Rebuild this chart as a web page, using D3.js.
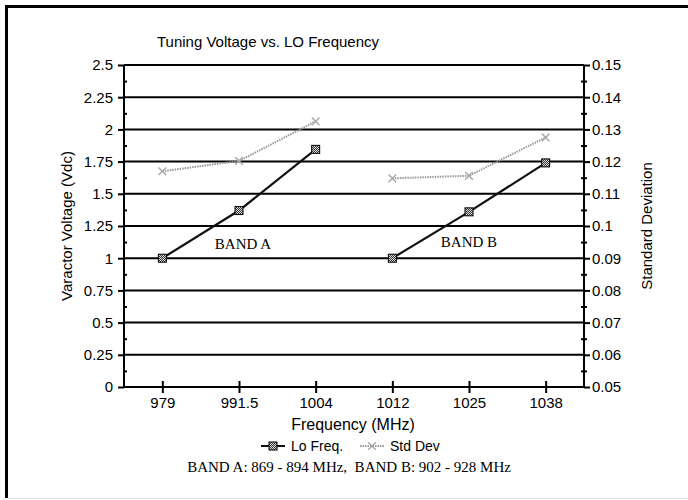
<!DOCTYPE html>
<html>
<head>
<meta charset="utf-8">
<script src="https://cdn.jsdelivr.net/npm/d3@7"></script>
<style>
  body { margin: 0; background: #fff; }
  text { font-family: "Liberation Sans", Arial, sans-serif; fill: #000; }
  .serif { font-family: "Liberation Serif", "Times New Roman", serif; }
</style>
</head>
<body>
<svg id="chart" width="688" height="500"></svg>
<script>
// chart data
const freqLabels = ['979', '991.5', '1004', '1012', '1025', '1038'];
const bandOf = ['A', 'A', 'A', 'B', 'B', 'B'];
const loFreq = [1.0, 1.37, 1.845, 1.0, 1.36, 1.74];
const stdDev = [0.117, 0.1202, 0.1325, 0.1148, 0.1156, 0.1275];
const leftTicks = [0, 0.25, 0.5, 0.75, 1, 1.25, 1.5, 1.75, 2, 2.25, 2.5];
const rightTicks = [0.05, 0.06, 0.07, 0.08, 0.09, 0.1, 0.11, 0.12, 0.13, 0.14, 0.15];
const bandLabels = ['BAND A', 'BAND B'];

const svg = d3.select('#chart');
const plot = { left: 124, right: 584, top: 65, bottom: 387 };

// page frame
svg.append('line').attr('x1', 6.5).attr('x2', 6.5).attr('y1', 5).attr('y2', 498)
  .attr('stroke', '#000').attr('stroke-width', 3);
svg.append('line').attr('x1', 5).attr('x2', 688).attr('y1', 6.5).attr('y2', 6.5)
  .attr('stroke', '#000').attr('stroke-width', 3);
svg.append('line').attr('x1', 8).attr('x2', 688).attr('y1', 498.5).attr('y2', 498.5)
  .attr('stroke', '#e6e6e6').attr('stroke-width', 1);

const x = d3.scalePoint().domain(freqLabels).range([plot.left, plot.right]).padding(0.5);
const yL = d3.scaleLinear().domain([0, 2.5]).range([plot.bottom, plot.top]);
const yR = d3.scaleLinear().domain([0.05, 0.15]).range([plot.bottom, plot.top]);

// hatch pattern for the Lo Freq markers
const defs = svg.append('defs');
const pat = defs.append('pattern').attr('id', 'hatch').attr('patternUnits', 'userSpaceOnUse')
  .attr('width', 2).attr('height', 2);
pat.append('rect').attr('width', 2).attr('height', 2).attr('fill', '#333');
pat.append('rect').attr('width', 1).attr('height', 1).attr('fill', '#ddd');
pat.append('rect').attr('x', 1).attr('y', 1).attr('width', 1).attr('height', 1).attr('fill', '#ddd');

// gridlines
svg.append('g').selectAll('line')
  .data(leftTicks.filter(d => d > 0))
  .enter().append('line')
  .attr('x1', plot.left).attr('x2', plot.right)
  .attr('y1', d => yL(d)).attr('y2', d => yL(d))
  .attr('stroke', '#000').attr('stroke-width', 2);

// left axis
const leftAxis = svg.append('g').attr('transform', `translate(${plot.left},0)`)
  .call(d3.axisLeft(yL).tickValues(leftTicks).tickSize(6).tickPadding(5).tickFormat(d3.format('')));
const leftMinor = svg.append('g').attr('transform', `translate(${plot.left},0)`)
  .call(d3.axisLeft(yL).tickValues(leftTicks.slice(1).map((d, i) => (d + leftTicks[i]) / 2)).tickSize(3).tickFormat(''));
leftMinor.selectAll('.tick line').attr('x2', 3);

// right axis
const rightAxis = svg.append('g').attr('transform', `translate(${plot.right},0)`)
  .call(d3.axisRight(yR).tickValues(rightTicks).tickSize(6).tickPadding(2).tickFormat(d3.format('')));
const rightMinor = svg.append('g').attr('transform', `translate(${plot.right},0)`)
  .call(d3.axisRight(yR).tickValues(rightTicks.slice(1).map((d, i) => (d + rightTicks[i]) / 2)).tickSize(3).tickFormat(''));
rightMinor.selectAll('.tick line').attr('x2', -3).attr('x1', 3);

// bottom axis
const bottomAxis = svg.append('g').attr('transform', `translate(0,${plot.bottom})`)
  .call(d3.axisBottom(x).tickSize(6).tickPadding(4).tickSizeOuter(0));
bottomAxis.selectAll('.tick line').attr('y1', -6);

[leftAxis, leftMinor, rightAxis, rightMinor, bottomAxis].forEach(g => {
  g.select('.domain').attr('stroke', '#000').attr('stroke-width', 2);
  g.selectAll('.tick line').attr('stroke', '#000').attr('stroke-width', 2);
  g.selectAll('.tick text').style('font-size', '15px')
    .style('font-family', '"Liberation Sans", Arial, sans-serif').attr('fill', '#000');
});
leftAxis.select('.domain').attr('d', `M0,${plot.top}V${plot.bottom}`);
rightAxis.select('.domain').attr('d', `M0,${plot.top}V${plot.bottom}`);
bottomAxis.select('.domain').attr('d', `M${plot.left},0H${plot.right}`);
leftMinor.select('.domain').remove();
rightMinor.select('.domain').remove();

// series
const idx = d3.range(freqLabels.length);
const bands = d3.groups(idx, i => bandOf[i]);

const lineLo = d3.line().x(i => x(freqLabels[i])).y(i => yL(loFreq[i]));
const lineSd = d3.line().x(i => x(freqLabels[i])).y(i => yR(stdDev[i]));

svg.append('g').selectAll('path')
  .data(bands)
  .enter().append('path')
  .attr('d', d => lineSd(d[1]))
  .attr('fill', 'none').attr('stroke', '#999').attr('stroke-width', 2)
  .attr('stroke-dasharray', '1.5,1');

svg.append('g').selectAll('path')
  .data(bands)
  .enter().append('path')
  .attr('d', d => lineLo(d[1]))
  .attr('fill', 'none').attr('stroke', '#111').attr('stroke-width', 2.2);

const sdSymbol = d3.symbol().type(d3.symbolTimes).size(40);
svg.append('g').selectAll('path')
  .data(idx)
  .enter().append('path')
  .attr('transform', i => `translate(${x(freqLabels[i])},${yR(stdDev[i])})`)
  .attr('d', sdSymbol)
  .attr('fill', 'none').attr('stroke', '#aaa').attr('stroke-width', 1.5);

svg.append('g').selectAll('rect')
  .data(idx)
  .enter().append('rect')
  .attr('x', i => x(freqLabels[i]) - 4)
  .attr('y', i => yL(loFreq[i]) - 4)
  .attr('width', 8).attr('height', 8)
  .attr('fill', 'url(#hatch)').attr('stroke', '#000').attr('stroke-width', 1);

// band labels, centred over the middle frequency of each band
svg.append('g').selectAll('text')
  .data(bandLabels)
  .enter().append('text')
  .attr('class', 'serif')
  .attr('x', (d, i) => x(freqLabels[i * 3 + 1]) + (i ? 0 : 4))
  .attr('y', (d, i) => yL(1) - (i ? 11 : 9))
  .attr('text-anchor', 'middle')
  .style('font-size', '15px')
  .text(d => d);

// titles
svg.append('text').attr('x', 268).attr('y', 47).attr('text-anchor', 'middle')
  .style('font-size', '15px').text('Tuning Voltage vs. LO Frequency');

svg.append('text').attr('transform', `translate(72,${(plot.top + plot.bottom) / 2}) rotate(-90)`)
  .attr('text-anchor', 'middle').style('font-size', '15px').text('Varactor Voltage (Vdc)');

svg.append('text').attr('transform', `translate(652,${(plot.top + plot.bottom) / 2}) rotate(-90)`)
  .attr('text-anchor', 'middle').style('font-size', '15px').text('Standard Deviation');

svg.append('text').attr('x', 353).attr('y', 430).attr('text-anchor', 'middle')
  .style('font-size', '16px').text('Frequency (MHz)');

// legend
const legend = svg.append('g').attr('transform', 'translate(0,446)');
legend.append('line').attr('x1', 261).attr('x2', 285).attr('y1', 0).attr('y2', 0)
  .attr('stroke', '#111').attr('stroke-width', 2);
legend.append('rect').attr('x', 269).attr('y', -4).attr('width', 8).attr('height', 8)
  .attr('fill', 'url(#hatch)').attr('stroke', '#000');
legend.append('text').attr('x', 291).attr('y', 5).style('font-size', '14px').text('Lo Freq.');
legend.append('line').attr('x1', 360).attr('x2', 384).attr('y1', 0).attr('y2', 0)
  .attr('stroke', '#999').attr('stroke-width', 2).attr('stroke-dasharray', '1.5,1');
legend.append('path').attr('transform', 'translate(372,0)').attr('d', sdSymbol())
  .attr('fill', 'none').attr('stroke', '#aaa').attr('stroke-width', 1.5);
legend.append('text').attr('x', 390).attr('y', 5).style('font-size', '14px').text('Std Dev');

svg.append('text').attr('class', 'serif').attr('x', 349).attr('y', 472)
  .attr('text-anchor', 'middle').style('font-size', '15px').style('white-space', 'pre')
  .text('BAND A: 869 - 894 MHz,  BAND B: 902 - 928 MHz');
</script>
</body>
</html>
